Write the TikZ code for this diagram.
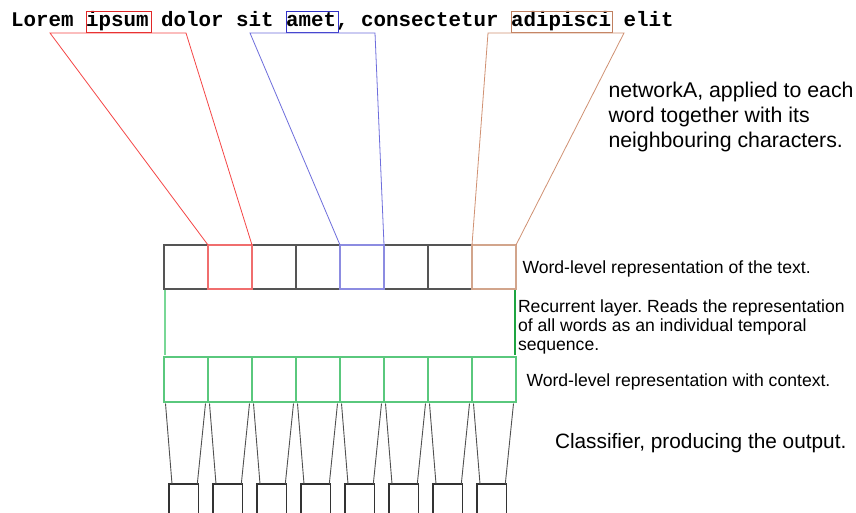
\documentclass[tikz,border=0pt]{standalone}
\usepackage{fontspec}
\setmainfont{Liberation Sans}
\setmonofont{Liberation Mono}
\usetikzlibrary{calc}
\frenchspacing
\definecolor{wred}{RGB}{225,40,40}
\definecolor{lred}{RGB}{245,70,70}
\definecolor{rred}{RGB}{240,110,110}
\definecolor{wblue}{RGB}{50,50,200}
\definecolor{lblue}{RGB}{110,110,220}
\definecolor{rblue}{RGB}{140,140,225}
\definecolor{wbrown}{RGB}{192,128,96}
\definecolor{lbrown}{RGB}{208,145,115}
\definecolor{rbrown}{RGB}{210,165,140}
\definecolor{bgray}{RGB}{85,85,85}
\definecolor{cgreen}{RGB}{90,200,125}
\definecolor{recl}{RGB}{120,215,150}
\definecolor{recr}{RGB}{30,165,65}
\definecolor{cgray}{RGB}{80,80,80}
\begin{document}
\begin{tikzpicture}[x=1pt,y=-1pt,
  wordbox/.style={draw=#1, line width=1pt, rectangle, inner sep=0pt, outer sep=0pt, minimum height=21pt},
  trap/.style={draw=#1, line width=0.8pt},
  rowbox/.style={draw=#1, line width=1.2pt, rectangle, inner sep=0pt, outer sep=0pt, minimum width=44pt, minimum height=44pt},
  ctxbox/.style={draw=cgreen, line width=1.2pt, rectangle, inner sep=0pt, outer sep=0pt, minimum width=44pt, minimum height=45pt},
  outbox/.style={draw=black!80, line width=1.2pt, rectangle, inner sep=0pt, outer sep=0pt, minimum width=29.3pt, minimum height=40pt},
  cline/.style={draw=cgray, line width=0.9pt},
  lbl/.style={inner sep=0pt, outer sep=0pt, anchor=base west, font=\fontsize{17.6}{19.3}\selectfont},
  biglbl/.style={inner sep=0pt, outer sep=0pt, align=left, font=\fontsize{20.8}{24.8}\selectfont}
]
\useasboundingbox[fill=white] (0,0) rectangle (856,513);

% sentence
\node[anchor=base west, inner sep=0pt, font=\ttfamily\bfseries\fontsize{20.83}{24}\selectfont] (sent) at (11,27) {Lorem ipsum dolor sit amet, consectetur adipisci elit};

% word boxes
\node[wordbox=wred, minimum width=65.7pt] (bipsum) at (118.85,22.5) {};
\node[wordbox=wblue, minimum width=52.7pt] (bamet) at (312.35,22.5) {};
\node[wordbox=wbrown, minimum width=101.3pt] (badip) at (561.65,22.5) {};

% word-level row
\foreach \i/\c in {1/bgray,3/bgray,4/bgray,6/bgray,7/bgray,2/rred,5/rblue,8/rbrown}
  \node[rowbox=\c] (w\i) at ({186+44*(\i-1)},267) {};

% trapezoids
\coordinate (rl) at (50,33);
\coordinate (rr) at (186,33);
\coordinate (bl) at (250,33);
\coordinate (br) at (375,33);
\coordinate (nl) at (488,33);
\coordinate (nr) at (624,33);
\draw[trap=lred] (w2.north west) -- (rl) -- (rr) -- (w2.north east);
\draw[trap=lblue] (w5.north west) -- (bl) -- (br) -- (w5.north east);
\draw[trap=lbrown] (w8.north west) -- (nl) -- (nr) -- (w8.north east);

% recurrent layer
\node[inner sep=0pt, outer sep=0pt, minimum width=350pt, minimum height=65pt] (rec) at (340,322.5) {};
\draw[recl, line width=1.2pt] (rec.north west) -- (rec.south west);
\draw[recr, line width=1.2pt] (rec.north east) -- (rec.south east);

% context row
\foreach \i in {1,...,8}
  \node[ctxbox] (c\i) at ({186+44*(\i-1)},379.5) {};

% classifier
\foreach \i in {1,...,8} {
  \node[outbox] (o\i) at ({164+44*(\i-1)+19.65},504) {};
  \draw[cline] ($(c\i.south west)+(1.5,1.5)$) -- ($(o\i.north west)+(3,0)$);
  \draw[cline] ($(c\i.south east)+(-2.5,1.5)$) -- ($(o\i.north east)+(-1,0)$);
}

% labels
\node[biglbl, anchor=north west, font=\fontsize{21.3}{24.8}\selectfont] (lnet) at (608.5,82.5) {networkA, applied to each\\word together with its\\neighbouring characters.};
\node[lbl] (lword) at (522.5,273) {Word-level representation of the text.};
\node[lbl, align=left, anchor=north west] (lrec) at (518,299.5) {Recurrent layer. Reads the representation\\of all words as an individual temporal\\sequence.};
\node[lbl] (lctx) at (526.5,386.7) {Word-level representation with context.};
\node[biglbl, anchor=base west] (lcls) at (555,448) {Classifier, producing the output.};
\end{tikzpicture}
\end{document}
